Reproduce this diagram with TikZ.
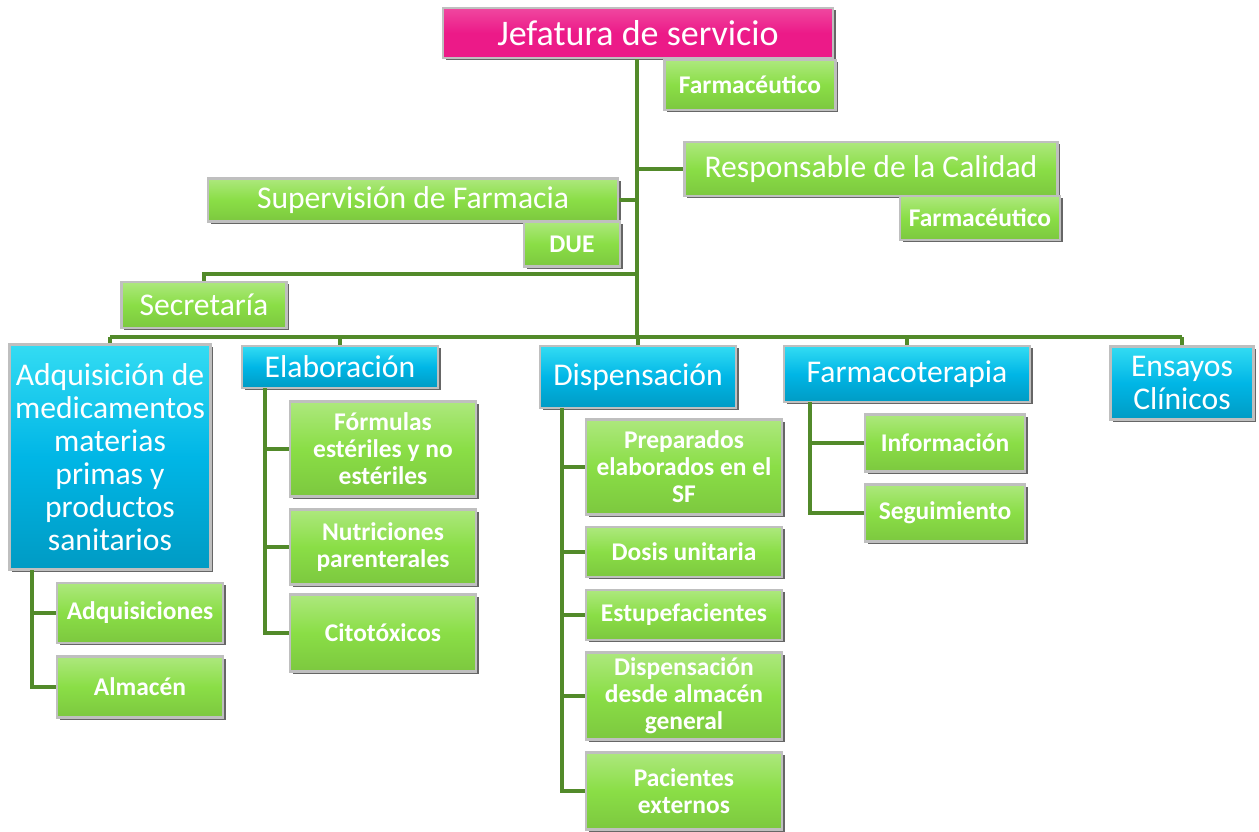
\documentclass[tikz,border=0pt]{standalone}
\usepackage{fontspec}
\setmainfont{Carlito}
\usetikzlibrary{shadows}
\definecolor{pinkbox}{RGB}{236,26,136}
\definecolor{bluebox}{RGB}{0,182,230}
\definecolor{greenbox}{RGB}{138,222,70}
\definecolor{linegreen}{RGB}{82,138,42}

\begin{document}
\begin{tikzpicture}[x=0.02cm, y=-0.02cm]

\tikzset{box/.style = {shape=rectangle, draw=black!25, line width=1.2pt, text=white, align=center, inner sep=2pt,
  drop shadow={shadow xshift=1.6pt, shadow yshift=-1.2pt, fill=black!75, opacity=0.8}}}
\tikzset{pbox/.style = {box, top color=pinkbox!80!white, bottom color=pinkbox, middle color=pinkbox,
  font=\fontsize{20.5}{24}\selectfont}}
\tikzset{bbox/.style = {box, top color=bluebox!60!cyan!80!white, bottom color=bluebox!85!black, middle color=bluebox,
  font=\fontsize{18}{18.7}\selectfont}}
\tikzset{gbox/.style = {box, top color=greenbox!70!white, bottom color=greenbox!90!black, middle color=greenbox,
  font=\fontsize{14.5}{15.4}\selectfont\bfseries}}
\tikzset{gbig/.style = {gbox, font=\fontsize{18}{18.7}\selectfont}}
\tikzset{conn/.style = {draw=linegreen, line width=2.5pt}}

\useasboundingbox (0,0) rectangle (1259,832);

%top
\node[pbox, minimum width=7.8cm, minimum height=1cm] (jefe) at (638,33) {Jefatura de servicio};
\node[gbox, minimum width=3.42cm, minimum height=1cm] (farm1) at (750,85) {Farmacéutico};
\node[gbig, minimum width=7.46cm, minimum height=1.08cm] (calidad) at (871,169) {Responsable de la Calidad};
\node[gbox, minimum width=3.2cm, minimum height=0.88cm] (farm2) at (980,218) {Farmacéutico};
\node[gbig, minimum width=8.2cm, minimum height=0.86cm] (superv) at (413,200) {Supervisión de Farmacia};
\node[gbox, minimum width=1.92cm, minimum height=0.9cm] (due) at (572,244) {DUE};
\node[gbig, minimum width=3.3cm, minimum height=0.92cm] (secre) at (204,305) {Secretaría};
\coordinate (bus) at (637,337);
\coordinate (sec) at (204,274);

%areas
\node[bbox, minimum width=4.02cm, minimum height=4.5cm] (adq) at (110,457) {Adquisición de\\medicamentos\\materias\\primas y\\productos\\sanitarios};
\node[bbox, minimum width=3.92cm, minimum height=0.84cm] (elab) at (340,367) {Elaboración};
\node[bbox, minimum width=3.92cm, minimum height=1.24cm] (disp) at (638,377) {Dispensación};
\node[bbox, minimum width=4.92cm, minimum height=1.12cm] (fterap) at (907,374) {Farmacoterapia};
\node[bbox, minimum width=2.86cm, minimum height=1.46cm] (ensayos) at (1182,383) {Ensayos\\Clínicos};

%units
\node[gbox, minimum width=3.32cm, minimum height=1.2cm] (adqs) at (140,613) {Adquisiciones};
\node[gbox, minimum width=3.32cm, minimum height=1.22cm] (almacen) at (140,687) {Almacén};
\node[gbox, minimum width=3.72cm, minimum height=1.9cm] (formulas) at (383,449) {Fórmulas\\estériles y no\\estériles};
\node[gbox, minimum width=3.72cm, minimum height=1.5cm] (nutri) at (383,547) {Nutriciones\\parenterales};
\node[gbox, minimum width=3.72cm, minimum height=1.54cm] (cito) at (383,633) {Citotóxicos};
\node[gbox, minimum width=3.92cm, minimum height=1.9cm] (prep) at (684,467) {Preparados\\elaborados en el\\SF};
\node[gbox, minimum width=3.92cm, minimum height=1cm] (dosis) at (684,552) {Dosis unitaria};
\node[gbox, minimum width=3.92cm, minimum height=1cm] (estu) at (684,615) {Estupefacientes};
\node[gbox, minimum width=3.92cm, minimum height=1.74cm] (dalm) at (684,696) {Dispensación\\desde almacén\\general};
\node[gbox, minimum width=3.92cm, minimum height=1.54cm] (pac) at (684,791) {Pacientes\\externos};
\node[gbox, minimum width=3.2cm, minimum height=1.14cm] (info) at (945,443) {Información};
\node[gbox, minimum width=3.2cm, minimum height=1.14cm] (segui) at (945,513) {Seguimiento};
\coordinate (aspine) at (32,570);
\coordinate (espine) at (265,388);
\coordinate (dspine) at (562,408);
\coordinate (fspine) at (810,402);

%lines
\draw[conn] (jefe.south -| bus) -- (bus);
\draw[conn] (bus |- calidad.west) -- (calidad.west);
\draw[conn] (superv.east) -- (bus |- superv.east);
\draw[conn] (bus |- sec) -- (sec) -- (secre.north);
\draw[conn] (adq.north |- bus) -- (ensayos.north |- bus);
\foreach \n in {adq, elab, disp, fterap, ensayos}
  \draw[conn] (\n.north |- bus) -- (\n.north);
\draw[conn] (aspine) |- (almacen.west);
\draw[conn] (aspine |- adqs.west) -- (adqs.west);
\draw[conn] (espine) |- (cito.west);
\foreach \n in {formulas, nutri}
  \draw[conn] (espine |- \n.west) -- (\n.west);
\draw[conn] (dspine) |- (pac.west);
\foreach \n in {prep, dosis, estu, dalm}
  \draw[conn] (dspine |- \n.west) -- (\n.west);
\draw[conn] (fspine) |- (segui.west);
\draw[conn] (fspine |- info.west) -- (info.west);

\end{tikzpicture}
\end{document}
